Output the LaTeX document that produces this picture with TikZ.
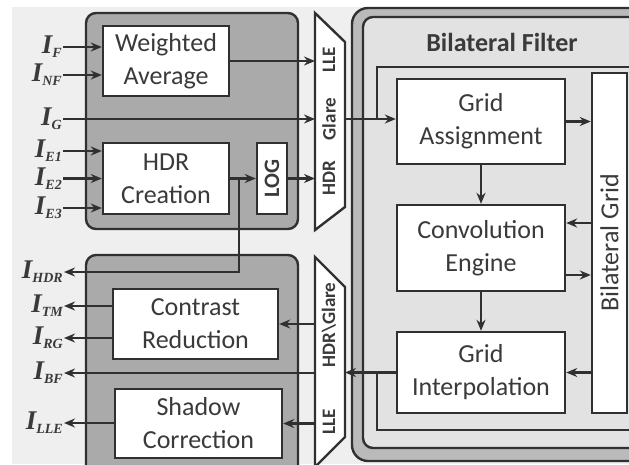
\documentclass[tikz,border=0pt]{standalone}
\usepackage{fontspec}
\setmainfont{Carlito}
\newfontfamily\serifbi{Liberation Serif}
\usepackage{tikz}
\usetikzlibrary{calc,arrows.meta}

\definecolor{blockgray}{RGB}{170,170,170}
\definecolor{bandgray}{RGB}{186,186,186}
\definecolor{filtgray}{RGB}{226,226,226}
\definecolor{backgray}{RGB}{239,239,239}
\definecolor{linegray}{RGB}{48,48,48}
\definecolor{textgray}{RGB}{58,58,58}

% signal name, e.g. I_F
\newcommand{\imgsig}[1]{{\serifbi\bfseries\itshape\fontsize{27}{27}\selectfont I\raisebox{-4pt}{\fontsize{14}{14}\selectfont #1}}}

\tikzset{
  wire/.style={draw=linegray, line width=2.4pt},
  flow/.style={wire, -{Stealth[length=11pt,width=9pt]}},
  unitbox/.style={wire, fill=white, align=center, inner sep=0pt, text=textgray,
    font=\fontsize{26}{33}\selectfont},
  muxlbl/.style={rotate=90, text=textgray, inner sep=0pt, font=\bfseries\fontsize{19}{19}\selectfont},
  sigl/.style={anchor=east, inner sep=1pt, text=textgray}
}

\begin{document}
\begin{tikzpicture}[x=1pt,y=-1pt]
    \useasboundingbox (0,0) rectangle (629,464);
    \clip (0,0) rectangle (629,464);
    % Background
    \fill[white] (0,0) rectangle (629,464);
    \fill[backgray] (12,7) rectangle (629,464);

    % Input block
    \draw[wire, fill=blockgray, rounded corners=10] (86,13) rectangle (298,229);
    \node[unitbox, minimum width=126, minimum height=70] (wa) at (166,61) {Weighted\\Average};
    \node[unitbox, minimum width=126, minimum height=71] (hdr) at (166,178.5) {HDR\\Creation};
    \node[unitbox, minimum width=30, minimum height=71] (log) at (272,178.5) {};
    \node[rotate=90, text=textgray, font=\bfseries\fontsize{22}{22}\selectfont] (logtxt) at (log) {LOG};

    % Output block
    \draw[wire, fill=blockgray, rounded corners=10] (86,255) rectangle (298,500);
    \node[unitbox, minimum width=165, minimum height=70] (cr) at (195.5,324) {Contrast\\Reduction};
    \node[unitbox, minimum width=167, minimum height=69] (sc) at (198.5,423.5) {Shadow\\Correction};

    % Bilateral filter
    \draw[wire, fill=bandgray, rounded corners=16] (352,8) rectangle (720,461);
    \draw[wire, fill=filtgray, rounded corners=10] (363,17) rectangle (710,448);
    \node[text=textgray, font=\bfseries\fontsize{26}{26}\selectfont] (bftitle) at (502,42) {Bilateral Filter};
    \node[unitbox, minimum width=168, minimum height=85] (ga) at (481,121.5) {Grid\\Assignment};
    \node[unitbox, minimum width=168, minimum height=86] (ce) at (481,248) {Convolution\\Engine};
    \node[unitbox, minimum width=168, minimum height=81] (gi) at (481,372.5) {Grid\\Interpolation};
    \node[unitbox, minimum width=35, minimum height=340] (bg) at (609.5,243) {};
    \node[rotate=90, text=textgray, font=\fontsize{26}{26}\selectfont] (bgtxt) at (bg) {Bilateral Grid};

    % Multiplexers
    \draw[wire, fill=white] (315,13) -- (345,42) -- (345,207) -- (315,230) -- cycle;
    \node[muxlbl] (mlle) at (329,60) {LLE};
    \node[muxlbl] (mglare) at (329,119) {Glare};
    \node[muxlbl] (mhdr) at (329,178) {HDR};
    \draw[wire, fill=white] (315,257) -- (345,287) -- (345,437) -- (315,467) -- cycle;
    \node[muxlbl] (mhg) at (329,325) {HDR\textbackslash Glare};
    \node[muxlbl] (mlle2) at (329,422) {LLE};
    \coordinate (mxL) at (315,0);
    \coordinate (mxR) at (345,0);

    % Inputs
    \node[sigl] (iF) at (63,47) {\imgsig{F}};
    \node[sigl] (iNF) at (63,75) {\imgsig{NF}};
    \node[sigl] (iG) at (63,119) {\imgsig{G}};
    \node[sigl] (iE1) at (63,151) {\imgsig{E1}};
    \node[sigl] (iE2) at (63,178.5) {\imgsig{E2}};
    \node[sigl] (iE3) at (63,208) {\imgsig{E3}};
    \draw[flow] (iF.east) -- (iF.east -| wa.west);
    \draw[flow] (iNF.east) -- (iNF.east -| wa.west);
    \draw[flow] (iE1.east) -- (iE1.east -| hdr.west);
    \draw[flow] (iE2.east) -- (iE2.east -| hdr.west);
    \draw[flow] (iE3.east) -- (iE3.east -| hdr.west);
    \draw[flow] (iG.east) -- (iG.east -| mxL);
    \draw[flow] (wa.east) -- (wa.east -| mxL);
    \draw[flow] (hdr.east) -- (log.west);
    \draw[flow] (log.east) -- (log.east -| mxL);

    % Outputs
    \node[sigl] (iHDR) at (64,272) {\imgsig{HDR}};
    \node[sigl] (iTM) at (64,306) {\imgsig{TM}};
    \node[sigl] (iRG) at (64,338) {\imgsig{RG}};
    \node[sigl] (iBF) at (64,373) {\imgsig{BF}};
    \node[sigl] (iLLE) at (64,423) {\imgsig{LLE}};
    \coordinate (tap) at (239,178.5);
    \draw[flow] (tap) |- (iHDR.east);
    \draw[flow] (cr.west |- iTM) -- (iTM.east);
    \draw[flow] (cr.west |- iRG) -- (iRG.east);
    \draw[flow] (mxL |- iBF) -- (iBF.east);
    \draw[flow] (sc.west |- iLLE) -- (iLLE.east);
    \draw[flow] (mxL |- cr.east) -- (cr.east);
    \draw[flow] (mxL |- sc.east) -- (sc.east);

    % Filter paths
    \coordinate (gin) at (377,119);
    \coordinate (gout) at (377,372.5);
    \draw[flow] (mxR |- iG) -- (ga.west |- iG);
    \draw[wire] (gin) -- (377,67) -- (720,67);
    \draw[flow] (gi.west) -- (gi.west -| mxR);
    \draw[wire] (gout) -- (377,430) -- (720,430);
    \draw[flow] (ga.south) -- (ce.north);
    \draw[flow] (ce.south) -- (gi.north);
    \coordinate (cin) at ($(ce.east)+(0,-25)$);
    \coordinate (cout) at ($(ce.east)+(0,27)$);
    \draw[flow] (ga.east) -- (ga.east -| bg.west);
    \draw[flow] (bg.west |- cin) -- (cin);
    \draw[flow] (cout) -- (cout -| bg.west);
    \draw[flow] (gi.east -| bg.west) -- (gi.east);
\end{tikzpicture}
\end{document}
